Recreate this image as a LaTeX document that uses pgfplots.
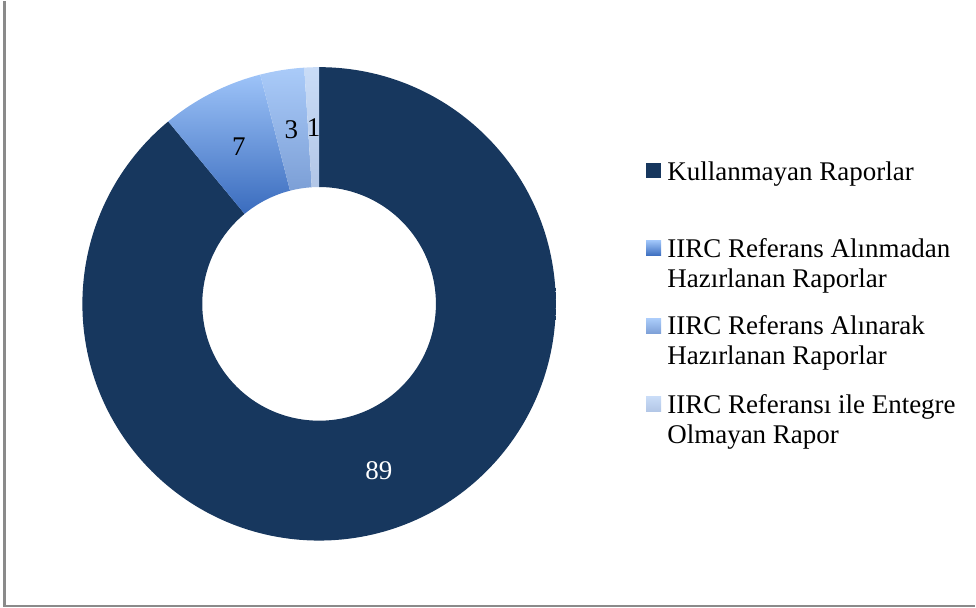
\documentclass[border=0pt]{standalone}
\usepackage{pgfplots}
\pgfplotsset{compat=1.18}
\usepackage{pgfplotstable}
\usepackage{fontspec}
\setmainfont{Liberation Serif}

\definecolor{navy}{HTML}{17375E}
\definecolor{aTop}{HTML}{9DC3F8}
\definecolor{aBot}{HTML}{3A6CBE}
\definecolor{bTop}{HTML}{AACBF9}
\definecolor{bBot}{HTML}{7C9FD6}
\definecolor{cTop}{HTML}{C9DCF7}
\definecolor{cBot}{HTML}{B2C6E6}
\definecolor{framegray}{HTML}{8A8A8A}

% share of reports (%), shading colours top/bottom
\pgfplotstableread{
value top bot
89 navy navy
7 aTop aBot
3 bTop bBot
1 cTop cBot
}\slices

\begin{document}
\begin{tikzpicture}
\begin{axis}[
  width=976pt, height=607pt, scale only axis,
  xmin=0, xmax=976, ymin=0, ymax=607,
  hide axis, clip=false,
]
\path (axis cs:0,0) rectangle (axis cs:976,607);
\def\cx{319.5}\def\cy{304}\def\Rout{237}\def\Rin{117}\def\Rlab{177}
\def\cum{0}
\pgfplotsforeachungrouped \i in {0,...,3}{%
  \pgfplotstablegetelem{\i}{value}\of\slices \let\v\pgfplotsretval
  \pgfplotstablegetelem{\i}{top}\of\slices \let\ct\pgfplotsretval
  \pgfplotstablegetelem{\i}{bot}\of\slices \let\cb\pgfplotsretval
  \pgfmathsetmacro\a{90-3.6*\cum}%
  \pgfmathsetmacro\b{90-3.6*(\cum+\v)}%
  \pgfmathsetmacro\m{(\a+\b)/2}%
  \pgfmathsetmacro\cum{\cum+\v}%
  \pgfmathsetmacro\xa{\cx+\Rout*cos(\a)}\pgfmathsetmacro\ya{\cy+\Rout*sin(\a)}%
  \pgfmathsetmacro\xb{\cx+\Rin*cos(\b)}\pgfmathsetmacro\yb{\cy+\Rin*sin(\b)}%
  \pgfmathsetmacro\xm{\cx+\Rlab*cos(\m)}\pgfmathsetmacro\ym{\cy+\Rlab*sin(\m)}%
  \edef\temp{\noexpand\shade[top color=\ct, bottom color=\cb]
    (axis cs:\xa,\ya) arc[start angle=\a, end angle=\b, radius=\Rout]
    -- (axis cs:\xb,\yb) arc[start angle=\b, end angle=\a, radius=\Rin] -- cycle;}%
  \temp
  \edef\temp{\noexpand\node[font=\noexpand\fontsize{27}{30}\noexpand\selectfont,
    text=\ifnum\i=0 white\else black\fi, inner sep=0pt] at (axis cs:\xm,\ym) {\v};}%
  \temp
}

% legend
\tikzset{lg/.style={anchor=base west, inner sep=0pt, font=\fontsize{27}{30}\selectfont}}
\fill[navy] (axis cs:647,430) rectangle (axis cs:662,445);
\node[lg] at (axis cs:668,428) {Kullanmayan Raporlar};
\shade[top color=aTop, bottom color=aBot] (axis cs:647,352) rectangle (axis cs:662,367);
\node[lg] at (axis cs:668,350) {IIRC Referans Alınmadan};
\node[lg] at (axis cs:668,320) {Hazırlanan Raporlar};
\shade[top color=bTop, bottom color=bBot] (axis cs:647,274) rectangle (axis cs:662,289);
\node[lg] at (axis cs:668,273) {IIRC Referans Alınarak};
\node[lg] at (axis cs:668,243) {Hazırlanan Raporlar};
\shade[top color=cTop, bottom color=cBot] (axis cs:647,196) rectangle (axis cs:662,211);
\node[lg] at (axis cs:668,194) {IIRC Referansı ile Entegre};
\node[lg] at (axis cs:668,164) {Olmayan Rapor};

% chart frame (left and bottom edges visible)
\draw[framegray, line width=2.5pt] (axis cs:4.5,607) -- (axis cs:4.5,1.3) -- (axis cs:976,1.3);
\end{axis}
\end{tikzpicture}
\end{document}
